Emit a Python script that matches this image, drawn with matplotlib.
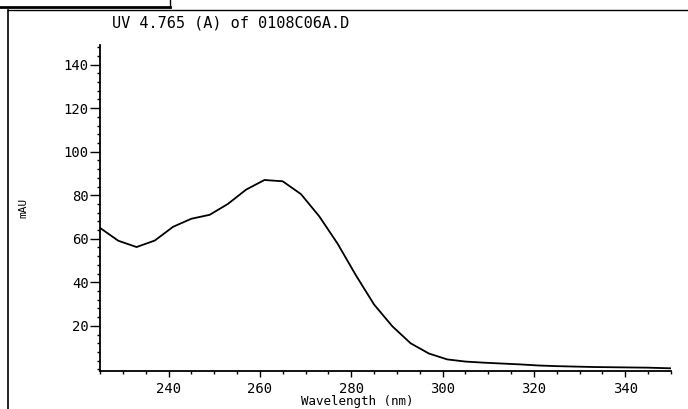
import matplotlib
matplotlib.use("Agg")
import matplotlib.pyplot as plt
from matplotlib.lines import Line2D
from matplotlib.ticker import MultipleLocator

# spectrum (diode array, 4 nm steps)
wavelength = [225, 229, 233, 237, 241, 245, 249, 253, 257, 261, 265, 269,
              273, 277, 281, 285, 289, 293, 297, 301, 305, 309, 313, 317,
              321, 325, 329, 333, 337, 341, 345, 350]
absorbance = [65.0, 59.1, 56.2, 59.2, 65.5, 69.2, 71.0, 76.0, 82.6, 87.0,
              86.4, 80.5, 70.3, 57.8, 43.3, 29.8, 19.8, 12.0, 7.3, 4.6,
              3.6, 3.1, 2.7, 2.3, 1.8, 1.5, 1.3, 1.1, 1.0, 0.9, 0.8, 0.5]

title = "UV 4.765 (A) of 0108C06A.D"
font = "DejaVu Sans Mono"

W, H = 688, 409
fig = plt.figure(figsize=(W / 100, H / 100), dpi=100)
ax = fig.add_axes([100 / W, (H - 370.5) / H, 571 / W, 325.5 / H])

ax.plot(wavelength, absorbance, color="black", lw=1.3)

ax.set_xlim(225, 350)
ax.set_ylim(-0.5, 149)
ax.xaxis.set_major_locator(MultipleLocator(20))
ax.xaxis.set_minor_locator(MultipleLocator(5))
ax.yaxis.set_major_locator(MultipleLocator(20))
ax.yaxis.set_minor_locator(MultipleLocator(4))
ax.set_yticks([20, 40, 60, 80, 100, 120, 140])

for s in ["top", "right"]:
    ax.spines[s].set_visible(False)
for s in ["left", "bottom"]:
    ax.spines[s].set_linewidth(1.3)

ax.tick_params(axis="x", which="major", direction="out", length=4, width=1, pad=4)
ax.tick_params(axis="x", which="minor", direction="out", length=2, width=1)
ax.tick_params(axis="y", which="major", direction="out", length=7, width=1, pad=1)
ax.tick_params(axis="y", which="minor", direction="out", length=2, width=1)
for lab in ax.get_xticklabels() + ax.get_yticklabels():
    lab.set_family(font)
    lab.set_fontsize(10)

# texts placed like the plotter output
fig.text(112 / W, 1 - 28 / H, title, family=font, fontsize=11, va="baseline")
fig.text(357 / W, 1 - 408 / H, "Wavelength (nm)", family=font, fontsize=9,
         ha="center", va="bottom")
fig.text(23 / W, 1 - 208 / H, "mAU", family=font, fontsize=8, rotation=90,
         ha="center", va="center")

# outer frame of the scanned page
fig.add_artist(Line2D([0, 170 / W], [1 - 7 / H, 1 - 7 / H], color="black", lw=2))
fig.add_artist(Line2D([170 / W, 170 / W], [1, 1 - 7 / H], color="black", lw=1))
fig.add_artist(Line2D([8 / W, 1], [1 - 10 / H, 1 - 10 / H], color="black", lw=1))
fig.add_artist(Line2D([8 / W, 8 / W], [0, 1 - 10 / H], color="black", lw=1.2))

fig.savefig("out.png", dpi=100)
